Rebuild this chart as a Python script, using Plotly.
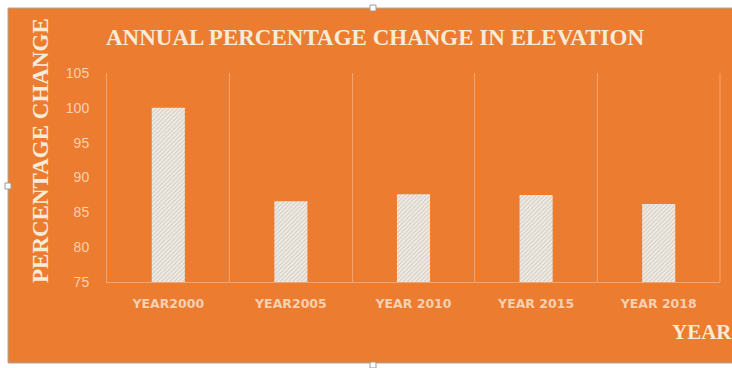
import plotly.graph_objects as go

categories = ["YEAR2000", "YEAR2005", "YEAR 2010", "YEAR 2015", "YEAR 2018"]
values = [100, 86.6, 87.6, 87.5, 86.2]
y_ticks = [75, 80, 85, 90, 95, 100, 105]

W_PAGE, H_PAGE = 732, 368
L, R, T, B = 107, 12, 73, 86
PW = W_PAGE - L - R
PH = H_PAGE - T - B

def px(x):
    return (x - L) / PW

def py(y):
    return (H_PAGE - B - y) / PH

ORANGE = "#EC7C30"
GRID = "#F3A674"
TICK = "#F7D0B0"
CREAM = "#F6EBD6"

fig = go.Figure()
fig.add_trace(go.Bar(
    x=categories, y=values,
    marker=dict(
        color="#EFEAE2",
        line=dict(width=0),
        pattern=dict(shape="/", bgcolor="#EFEBE4", fgcolor="#ACA396", size=3, solidity=0.3),
    ),
))

shapes = [
    dict(type="rect", xref="paper", yref="paper", x0=px(8), x1=px(740), y0=py(363), y1=py(8),
         fillcolor=ORANGE, line=dict(color="#A8A8A8", width=1), layer="below"),
]
for (cx, cy) in [(373, 8), (8, 186), (373, 365)]:
    shapes.append(dict(type="rect", xref="paper", yref="paper",
                       x0=px(cx - 3), x1=px(cx + 3), y0=py(cy + 3), y1=py(cy - 3),
                       fillcolor="white", line=dict(color="#9A9A9A", width=1), layer="above"))
shapes.append(dict(type="line", xref="paper", yref="paper", x0=1, x1=1, y0=0, y1=1,
                   line=dict(color=GRID, width=1), layer="below"))

fig.update_layout(
    width=W_PAGE, height=H_PAGE,
    margin=dict(l=L, r=R, t=T, b=B),
    paper_bgcolor="white",
    plot_bgcolor="rgba(0,0,0,0)",
    showlegend=False,
    bargap=0.73,
    shapes=shapes,
    title=dict(text="ANNUAL PERCENTAGE CHANGE IN ELEVATION",
               xref="paper", x=px(375), xanchor="center",
               yref="container", y=1 - 37 / H_PAGE, yanchor="middle",
               font=dict(family="Liberation Serif", size=23, color=CREAM, weight="bold")),
    xaxis=dict(type="category", tickson="boundaries", showgrid=True, gridcolor=GRID, gridwidth=1,
               showline=True, linecolor=GRID, linewidth=1, ticks="",
               tickfont=dict(family="DejaVu Sans", size=12.5, color=TICK, weight="bold"),
               ticklabelstandoff=10),
    yaxis=dict(range=[75, 105], tickvals=y_ticks, showgrid=False, zeroline=False,
               showline=True, linecolor=GRID, linewidth=1, ticks="",
               tickfont=dict(family="Liberation Sans", size=14, color=TICK),
               ticklabelstandoff=14),
    annotations=[
        dict(text="PERCENTAGE CHANGE", textangle=-90, xref="paper", yref="paper",
             x=px(40), y=py(151), xanchor="center", yanchor="middle", showarrow=False,
             font=dict(family="Liberation Serif", size=23, color=CREAM, weight="bold")),
        dict(text="YEAR", xref="paper", yref="paper", x=px(670), y=py(332),
             xanchor="left", yanchor="middle", showarrow=False,
             font=dict(family="Liberation Serif", size=21, color=CREAM, weight="bold")),
    ],
)

fig.write_html("out.html")
